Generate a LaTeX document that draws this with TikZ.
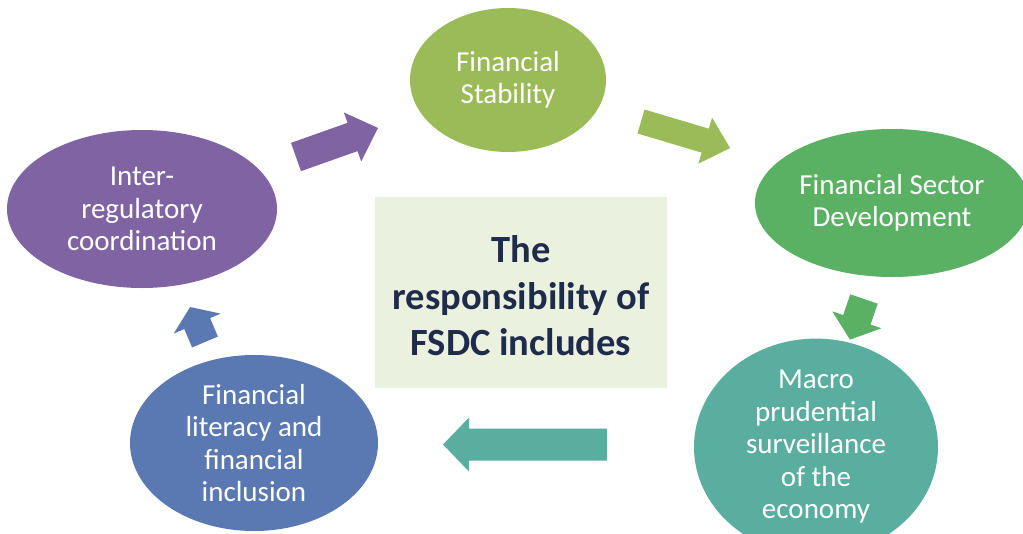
\documentclass[tikz,border=0pt]{standalone}
\usepackage{fontspec}
\setmainfont{Carlito}
\usetikzlibrary{shapes.geometric}
\definecolor{cStab}{HTML}{9BBB59}
\definecolor{cFSD}{HTML}{5BB163}
\definecolor{cMacro}{HTML}{5AAE9F}
\definecolor{cBlue}{HTML}{5A78B1}
\definecolor{cPurple}{HTML}{8063A3}
\definecolor{cBox}{HTML}{EBF1DF}
\definecolor{cTitle}{HTML}{1F2B4A}
% #1 colour, #2 #3 tail centre, #4 angle, #5 length, #6 shaft width, #7 head width, #8 head length
\newcommand\BlkArrow[8]{%
  \fill[#1, shift={(#2,#3)}, rotate=#4]
    (0,{-0.5*#6}) -- ({#5-#8},{-0.5*#6}) -- ({#5-#8},{-0.5*#7}) -- (#5,0)
    -- ({#5-#8},{0.5*#7}) -- ({#5-#8},{0.5*#6}) -- (0,{0.5*#6}) -- cycle;}
\begin{document}
\begin{tikzpicture}[x=1pt,y=-1pt,
  ell/.style={ellipse, draw=none, inner sep=0pt, text=white, align=center,
    font=\fontsize{29}{32.5}\selectfont},
  titlebox/.style={rectangle, fill=cBox, inner sep=0pt, text=cTitle, align=center,
    font=\fontsize{38.5}{46.5}\selectfont\bfseries}]
\useasboundingbox (0,0) rectangle (1023,533);
\clip (0,0) rectangle (1023,533);
\fill[white] (0,0) rectangle (1023,533);

\node[ell, fill=cStab, minimum width=196pt, minimum height=144pt] (stab) at (508,80) {Financial\\Stability};
\node[ell, fill=cFSD, minimum width=274pt, minimum height=148pt] (fsd) at (892,203) {Financial Sector\\Development};
\node[ell, fill=cMacro, minimum width=244pt, minimum height=178pt] (macro) at (816,447) {Macro\\prudential\\surveillance\\of the\\economy};
\node[ell, fill=cBlue, minimum width=248pt, minimum height=176pt] (lit) at (254,443) {Financial\\literacy and\\financial\\inclusion};
\node[ell, fill=cPurple, minimum width=270pt, minimum height=158pt] (inter) at (142,209) {Inter-\\regulatory\\coordination};
\node[rectangle, fill=cBox, minimum width=292pt, minimum height=191pt] (box) at (521,292.5) {};
\node[titlebox] (title) at (521,296) {The\\responsibility of\\FSDC includes};

\BlkArrow{cPurple}{296}{157}{19.5}{87}{30}{52}{27}
\BlkArrow{cStab}{641}{121.5}{-16.6}{93}{25}{48}{26}
\BlkArrow{cFSD}{864}{299}{-109}{43}{29}{52}{21}
\BlkArrow{cMacro}{607}{444.5}{180}{164}{32}{54}{26}
\BlkArrow{cBlue}{205}{342}{113}{38}{28}{51}{18}
\end{tikzpicture}
\end{document}
